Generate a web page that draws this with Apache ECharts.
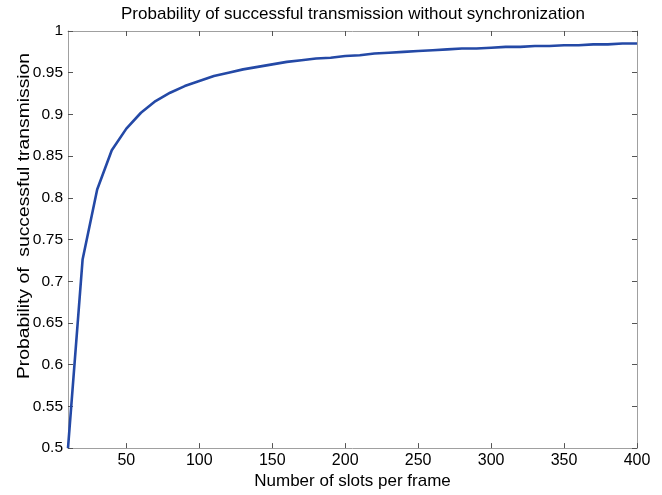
<!DOCTYPE html>
<html>
<head>
<meta charset="utf-8">
<script src="https://cdn.jsdelivr.net/npm/echarts@6/dist/echarts.min.js"></script>
<style>html,body{margin:0;padding:0;background:#fff;}#c{width:662px;height:495px;}</style>
</head>
<body>
<div id="c"></div>
<script>
const slots = [10,20,30,40,50,60,70,80,90,100,110,120,130,140,150,160,170,180,190,200,210,220,230,240,250,260,270,280,290,300,310,320,330,340,350,360,370,380,390,400];
const prob = [0.500,0.726,0.810,0.857,0.883,0.902,0.916,0.926,0.934,0.940,0.946,0.950,0.954,0.957,0.960,0.963,0.965,0.967,0.968,0.970,0.971,0.973,0.974,0.975,0.976,0.977,0.978,0.979,0.979,0.980,0.981,0.981,0.982,0.982,0.983,0.983,0.984,0.984,0.985,0.985];
const xTicks = [50,100,150,200,250,300,350,400];
const titleText = 'Probability of successful transmission without synchronization';
const xName = 'Number of slots per frame';
const yName = 'Probability of  successful transmission';

const font = 'Liberation Sans, Arial, sans-serif';
const axisColor = '#a0a0a0';
const chart = echarts.init(document.getElementById('c'));
const data = slots.map((s, i) => [s, prob[i]]);
chart.setOption({
  animation: false,
  title: {
    text: titleText, left: 353, top: 6, textAlign: 'center', padding: 0,
    textStyle: { fontFamily: font, fontSize: 17, fontWeight: 'normal', color: '#000' }
  },
  grid: { left: 68, right: 25, top: 31, bottom: 39 },
  xAxis: [{
    type: 'value', min: 10, max: 400, position: 'bottom',
    name: xName, nameLocation: 'middle', nameGap: 18,
    nameTextStyle: { fontFamily: font, fontSize: 17, color: '#000' },
    axisLine: { show: true, lineStyle: { color: axisColor, width: 1 } },
    axisTick: { show: true, inside: true, length: 5, customValues: xTicks, lineStyle: { color: '#555' } },
    axisLabel: { customValues: xTicks, fontFamily: font, fontSize: 16, color: '#000', margin: 4 },
    splitLine: { show: false }
  }, {
    type: 'value', min: 10, max: 400, position: 'top',
    axisLine: { show: true, lineStyle: { color: axisColor, width: 1 } },
    axisTick: { show: true, inside: true, length: 5, customValues: xTicks, lineStyle: { color: '#555' } },
    axisLabel: { show: false },
    splitLine: { show: false }
  }],
  yAxis: [{
    type: 'value', min: 0.5, max: 1, interval: 0.05, position: 'left',
    axisLine: { show: true, lineStyle: { color: axisColor, width: 1 } },
    axisTick: { show: true, inside: true, length: 5, lineStyle: { color: '#555' } },
    axisLabel: { fontFamily: font, fontSize: 15.5, color: '#000', margin: 5,
      formatter: v => String(parseFloat(v.toFixed(2))) },
    splitLine: { show: false }
  }, {
    type: 'value', min: 0.5, max: 1, interval: 0.05, position: 'right',
    axisLine: { show: true, lineStyle: { color: axisColor, width: 1 } },
    axisTick: { show: true, inside: true, length: 5, lineStyle: { color: '#555' } },
    axisLabel: { show: false },
    splitLine: { show: false }
  }],
  graphic: [{
    type: 'text', x: 24, y: 216, rotation: Math.PI / 2, scaleX: 1.17, scaleY: 1,
    style: { text: yName, fontFamily: font, fontSize: 16.5, fill: '#000', align: 'center', verticalAlign: 'middle' }
  }],
  series: [{
    type: 'line', data: data, xAxisIndex: 0, yAxisIndex: 0,
    showSymbol: false, smooth: false,
    lineStyle: { color: '#2449a6', width: 2.6 }
  }]
});
</script>
</body>
</html>
